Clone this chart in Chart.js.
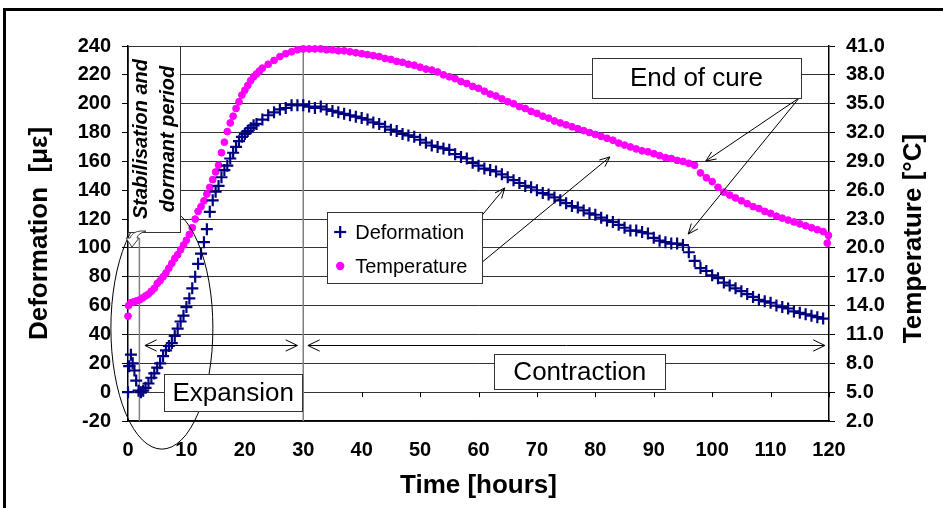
<!DOCTYPE html>
<html>
<head>
<meta charset="utf-8">
<script src="https://cdn.jsdelivr.net/npm/chart.js@4.4.1/dist/chart.umd.min.js"></script>
<style>
  html, body { margin: 0; padding: 0; background: #fff; }
  #wrap { width: 943px; height: 508px; position: relative; }
</style>
</head>
<body>
<div id="wrap"><canvas id="myChart"></canvas></div>
<script>
// readings taken off the plot
const defHours = [0, 0.2, 0.5, 0.8, 1.1, 1.4, 1.8, 2.2, 2.6, 3,
  3.5, 4, 4.5, 5, 5.5, 6, 6.5, 7, 7.5, 8, 8.5, 9, 9.5, 10, 10.5, 11, 11.5, 12, 12.5, 13,
  13.5, 14, 14.5, 15, 15.5, 16, 16.5, 17, 17.5, 18, 18.5, 19, 19.5, 20, 20.5, 21, 21.5, 22,
  23, 24, 25, 26, 27, 28, 29, 30,
  31, 32, 33, 34, 35, 36, 37, 38, 39, 40, 41, 42, 43, 44, 45, 46, 47, 48, 49, 50,
  51, 52, 53, 54, 55, 56, 57, 58, 59, 60, 61, 62, 63, 64, 65, 66, 67, 68, 69, 70,
  71, 72, 73, 74, 75, 76, 77, 78, 79, 80, 81, 82, 83, 84, 85, 86, 87, 88, 89, 90,
  91, 92, 93, 94, 95, 96, 97, 98, 99, 100, 101, 102, 103, 104, 105, 106, 107, 108, 109, 110,
  111, 112, 113, 114, 115, 116, 117, 118, 119];
const deformation = [0, 18, 26, 20, 15, 8, 1, 0, 1, 3,
  6, 10, 13, 17, 20, 25, 29, 32, 34, 39, 44, 49, 53, 59, 65, 72, 80, 89, 96, 104,
  113, 125, 133, 139, 143, 149, 154, 157, 162, 166, 170, 174, 177, 179, 181, 183, 185, 186,
  189, 192, 194, 196, 197, 199, 199, 199,
  198, 197, 198, 196, 195, 194, 193, 192, 191, 190, 189, 187, 186, 184, 182, 181, 179, 178, 177, 175,
  173, 171, 170, 169, 168, 165, 163, 162, 159, 157, 155, 154, 153, 151, 149, 147, 145, 143, 142, 140,
  138, 137, 135, 133, 131, 129, 128, 126, 124, 123, 121, 119, 118, 116, 114, 112, 112, 111, 110, 107,
  105, 104, 103, 103, 102, 97, 91, 86, 84, 81, 79, 76, 74, 72, 70, 68, 66, 64, 63, 62,
  60, 59, 58, 56, 55, 54, 53, 52, 51];

const tempHours = [0, 0.1, 0.5, 1, 1.5, 2, 2.5, 3, 3.5, 4, 4.5, 5, 5.5, 6, 6.5, 7, 7.5, 8, 8.5, 9, 9.5, 10,
  10.5, 11, 11.5, 12, 12.5, 13, 13.5, 14, 14.5, 15, 15.5, 16, 16.5, 17, 17.5, 18, 18.5, 19, 19.5, 20,
  20.5, 21, 21.5, 22, 22.5, 23,
  24, 25, 26, 27, 28, 29, 30, 31, 32, 33, 34, 35, 36, 37, 38, 39, 40, 41, 42, 43, 44, 45, 46, 47, 48, 49, 50,
  51, 52, 53, 54, 55, 56, 57, 58, 59, 60, 61, 62, 63, 64, 65, 66, 67, 68, 69, 70,
  71, 72, 73, 74, 75, 76, 77, 78, 79, 80, 81, 82, 83, 84, 85, 86, 87, 88, 89, 90,
  91, 92, 93, 94, 95, 96, 97, 98, 99, 100, 101, 102, 103, 104, 105, 106, 107, 108, 109, 110,
  111, 112, 113, 114, 115, 116, 117, 118, 119, 119.7, 119.9];
const temperature = [12.9, 14.0, 14.3, 14.4, 14.5, 14.6, 14.8, 15.0, 15.2, 15.5, 15.8, 16.3, 16.6, 17.0, 17.4, 17.9, 18.4, 18.9, 19.3, 19.8, 20.3, 20.8,
  21.4, 22.1, 23.0, 23.8, 24.3, 24.9, 25.6, 26.3, 27.1, 27.9, 28.6, 29.9, 31.0, 32.1, 33.0, 33.7, 34.5, 35.2, 35.9, 36.4,
  36.9, 37.4, 37.8, 38.1, 38.4, 38.7,
  39.1, 39.5, 39.9, 40.2, 40.4, 40.6, 40.7, 40.7, 40.7, 40.7, 40.6, 40.6, 40.5, 40.5, 40.4, 40.3, 40.2, 40.1, 40.0, 39.9, 39.7, 39.6, 39.4, 39.3, 39.1, 39.0, 38.8,
  38.6, 38.5, 38.3, 38.0, 37.8, 37.6, 37.3, 37.1, 36.8, 36.6, 36.3, 36.0, 35.8, 35.5, 35.2, 35.0, 34.7, 34.5, 34.2, 34.0,
  33.7, 33.5, 33.2, 33.0, 32.8, 32.6, 32.4, 32.2, 32.0, 31.8, 31.6, 31.4, 31.2, 30.9, 30.7, 30.5, 30.3, 30.1, 30.0, 29.8,
  29.6, 29.4, 29.3, 29.1, 29.0, 28.8, 28.6, 27.8, 27.3, 26.9, 26.3, 25.8, 25.5, 25.2, 24.9, 24.6, 24.3, 24.1, 23.8, 23.6,
  23.3, 23.1, 22.9, 22.7, 22.5, 22.3, 22.1, 21.9, 21.7, 20.5, 21.3];

const timeRange = [0, 120, 10];
const defRange = [-20, 240, 20];
const tempRange = [2, 41, 3];

// notes on the plot, in hours / microstrain
const stabBox = { t1: 0, t2: 8.95, d1: 240, d2: 111, lines: ['Stabilisation and', 'dormant period'] };
const expBox = { t1: 6.2, t2: 29.8, d1: 12.4, d2: -13.1, text: 'Expansion' };
const conBox = { t1: 62.7, t2: 92.0, d1: 26.2, d2: 2.0, text: 'Contraction' };
const cureBox = { t1: 79.4, t2: 115.2, d1: 231.7, d2: 204.0, text: 'End of cure' };
const legBox = { t1: 34.1, t2: 60.6, d1: 124.9, d2: 75.6 };

const FONT = "'Liberation Sans', Arial, sans-serif";
Chart.defaults.font.family = FONT;
Chart.defaults.color = '#000';

function head(ctx, x1, y1, x2, y2, len, spread) {
  const a = Math.atan2(y2 - y1, x2 - x1);
  ctx.beginPath();
  ctx.moveTo(x2 - len * Math.cos(a - spread), y2 - len * Math.sin(a - spread));
  ctx.lineTo(x2, y2);
  ctx.lineTo(x2 - len * Math.cos(a + spread), y2 - len * Math.sin(a + spread));
  ctx.stroke();
}

function line(ctx, x1, y1, x2, y2) {
  ctx.beginPath();
  ctx.moveTo(x1, y1);
  ctx.lineTo(x2, y2);
  ctx.stroke();
}

function textBox(ctx, X, Y, b) {
  const x = X(b.t1), y = Y(b.d1), w = X(b.t2) - x, h = Y(b.d2) - y;
  ctx.fillStyle = '#fff';
  ctx.fillRect(x, y, w, h);
  ctx.strokeStyle = '#333';
  ctx.lineWidth = 1;
  ctx.strokeRect(Math.round(x) + 0.5, Math.round(y) + 0.5, Math.round(w), Math.round(h));
  if (b.text) {
    ctx.fillStyle = '#000';
    ctx.font = '26px ' + FONT;
    ctx.textAlign = 'center';
    ctx.textBaseline = 'middle';
    ctx.fillText(b.text, x + w / 2, y + h / 2 + 1);
  }
}

const notes = {
  id: 'notes',
  beforeDraw(chart) {
    const ctx = chart.ctx;
    ctx.save();
    ctx.strokeStyle = '#000';
    ctx.lineWidth = 3;
    ctx.strokeRect(4.5, 9.5, 960, 520);
    ctx.restore();
  },
  beforeDatasetsDraw(chart) {
    const ctx = chart.ctx;
    const X = v => chart.scales.x.getPixelForValue(v);
    const Y = v => chart.scales.y.getPixelForValue(v);
    ctx.save();
    // small time ticks on the zero line
    ctx.strokeStyle = '#000';
    ctx.lineWidth = 1;
    chart.scales.x.ticks.forEach(t => {
      const x = Math.round(X(t.value)) + 0.5;
      line(ctx, x, Y(0), x, Y(0) + 5);
    });
    // period dividers
    ctx.strokeStyle = '#808080';
    ctx.lineWidth = 1.5;
    line(ctx, X(30), Y(240), X(30), Y(-20));
    line(ctx, X(1.95), Y(107), X(1.95), Y(-20));
    ctx.restore();
  },
  afterDatasetsDraw(chart) {
    const ctx = chart.ctx;
    const X = v => chart.scales.x.getPixelForValue(v);
    const Y = v => chart.scales.y.getPixelForValue(v);
    ctx.save();
    ctx.strokeStyle = '#000';
    ctx.lineWidth = 1;

    // ellipse round the early stage
    ctx.beginPath();
    ctx.ellipse(X(5.8), Y(44.4), X(8.73) - X(0), Y(0) - Y(83.9), 0, 0, Math.PI * 2);
    ctx.stroke();

    // stabilisation box, vertical text
    textBox(ctx, X, Y, stabBox);
    const sx = (X(stabBox.t1) + X(stabBox.t2)) / 2, sy = (Y(stabBox.d1) + Y(stabBox.d2)) / 2;
    ctx.save();
    ctx.translate(sx, sy);
    ctx.rotate(-Math.PI / 2);
    ctx.fillStyle = '#000';
    ctx.font = 'italic bold 20px ' + FONT;
    ctx.textAlign = 'center';
    ctx.textBaseline = 'middle';
    ctx.fillText(stabBox.lines[0], 0, -13);
    ctx.fillText(stabBox.lines[1], 0, 14);
    ctx.restore();

    // curved callout under the box
    const bx = X(stabBox.t1), by = Y(stabBox.d2);
    ctx.beginPath();
    ctx.moveTo(bx + 4, by + 15);
    ctx.lineTo(bx - 2, by + 6);
    ctx.lineTo(bx + 2, by + 6);
    ctx.quadraticCurveTo(bx + 4, by, bx + 12, by - 1);
    ctx.lineTo(bx + 18, by - 1);
    ctx.quadraticCurveTo(bx + 9, by + 2, bx + 9, by + 6);
    ctx.lineTo(bx + 11, by + 6);
    ctx.closePath();
    ctx.fillStyle = '#fff';
    ctx.fill();
    ctx.strokeStyle = '#444';
    ctx.stroke();

    // expansion / contraction spans
    ctx.strokeStyle = '#000';
    const ay = Math.round(Y(32.7)) + 0.5;
    line(ctx, X(2.9), ay, X(29.0), ay);
    head(ctx, X(29.0), ay, X(2.9), ay, 13, 0.45);
    head(ctx, X(2.9), ay, X(29.0), ay, 13, 0.45);
    line(ctx, X(30.8), ay, X(119.3), ay);
    head(ctx, X(119.3), ay, X(30.8), ay, 13, 0.45);
    head(ctx, X(30.8), ay, X(119.3), ay, 13, 0.45);

    textBox(ctx, X, Y, expBox);
    textBox(ctx, X, Y, conBox);

    // end of cure pointers
    ctx.strokeStyle = '#000';
    const cx = X(114.9), cy = Y(204);
    [[98.9, 160.2], [95.9, 109.6]].forEach(p => {
      line(ctx, cx, cy, X(p[0]), Y(p[1]));
      head(ctx, cx, cy, X(p[0]), Y(p[1]), 11, 0.4);
    });
    textBox(ctx, X, Y, cureBox);

    // legend
    ctx.strokeStyle = '#000';
    [[58.5, 112.4, 64.5, 141.6], [59.2, 85.4, 82.5, 163.1]].forEach(p => {
      line(ctx, X(p[0]), Y(p[1]), X(p[2]), Y(p[3]));
      head(ctx, X(p[0]), Y(p[1]), X(p[2]), Y(p[3]), 11, 0.4);
    });
    textBox(ctx, X, Y, legBox);
    const lx = X(legBox.t1), ly = Y(legBox.d1);
    const ds = chart.data.datasets;
    ctx.strokeStyle = ds[0].borderColor;
    ctx.lineWidth = 2.2;
    line(ctx, lx + 7, ly + 20, lx + 19, ly + 20);
    line(ctx, lx + 13, ly + 14, lx + 13, ly + 26);
    ctx.fillStyle = ds[1].backgroundColor;
    ctx.beginPath();
    ctx.arc(lx + 13, ly + 54, 4.2, 0, Math.PI * 2);
    ctx.fill();
    ctx.fillStyle = '#000';
    ctx.font = '20px ' + FONT;
    ctx.textAlign = 'left';
    ctx.textBaseline = 'middle';
    ctx.fillText(ds[0].label, lx + 28, ly + 21);
    ctx.fillText(ds[1].label, lx + 28, ly + 55);
    ctx.restore();
  },
  afterDraw(chart) {
    const ctx = chart.ctx;
    const s = chart.scales.y2;
    ctx.save();
    ctx.translate(914, (chart.chartArea.top + chart.chartArea.bottom) / 2 + 5);
    ctx.rotate(-Math.PI / 2);
    ctx.fillStyle = '#000';
    ctx.font = 'bold 26px ' + FONT;
    ctx.textAlign = 'center';
    ctx.textBaseline = 'middle';
    ctx.fillText(s.options.titleText, 0, 0);
    ctx.restore();
  }
};

const tickFont = { size: 20, weight: 'bold' };
const titleFont = { size: 26, weight: 'bold' };

new Chart(document.getElementById('myChart'), {
  type: 'scatter',
  data: {
    datasets: [
      {
        label: 'Deformation',
        data: defHours.map((h, i) => ({ x: h, y: deformation[i] })),
        yAxisID: 'y',
        pointStyle: 'cross',
        pointRadius: 6,
        borderColor: '#000080',
        backgroundColor: '#000080',
        pointBorderWidth: 2.2,
        showLine: false,
        clip: false
      },
      {
        label: 'Temperature',
        data: tempHours.map((h, i) => ({ x: h, y: temperature[i] })),
        yAxisID: 'y2',
        pointStyle: 'circle',
        pointRadius: 3.4,
        borderColor: '#ff00ff',
        backgroundColor: '#ff00ff',
        pointBorderWidth: 1,
        showLine: false,
        clip: false
      }
    ]
  },
  options: {
    responsive: true,
    maintainAspectRatio: false,
    animation: false,
    layout: { padding: { top: 46, left: 0, right: 0, bottom: 0 } },
    plugins: { legend: { display: false }, tooltip: { enabled: false } },
    scales: {
      x: {
        type: 'linear',
        min: timeRange[0], max: timeRange[1],
        ticks: { stepSize: timeRange[2], font: tickFont, color: '#000', padding: 17, maxRotation: 0, autoSkip: false },
        grid: { display: false, drawTicks: false },
        border: { display: true, color: '#000', width: 1.5 },
        title: { display: true, text: 'Time [hours]', font: titleFont, color: '#000', padding: { top: 0, bottom: 7 } },
        afterFit: s => { s.height = 87; }
      },
      y: {
        position: 'left',
        min: defRange[0], max: defRange[1],
        ticks: { stepSize: defRange[2], font: tickFont, color: '#000', padding: 11 },
        grid: { color: '#333', lineWidth: 1, tickLength: 6, tickColor: '#000' },
        border: { color: '#000', width: 1.5 },
        title: { display: true, text: 'Deformation  [με]', font: titleFont, color: '#000', padding: { top: 24, bottom: 0 } },
        afterFit: s => { s.width = 128; }
      },
      y2: {
        position: 'right',
        min: tempRange[0], max: tempRange[1],
        titleText: 'Temperature [°C]',
        ticks: { stepSize: tempRange[2], font: tickFont, color: '#000', padding: 11, callback: v => v.toFixed(1) },
        grid: { drawOnChartArea: false, tickLength: 6, color: '#000' },
        border: { color: '#000', width: 1.5 },
        afterFit: s => { s.width = 114; }
      }
    }
  },
  plugins: [notes]
});
</script>
</body>
</html>
